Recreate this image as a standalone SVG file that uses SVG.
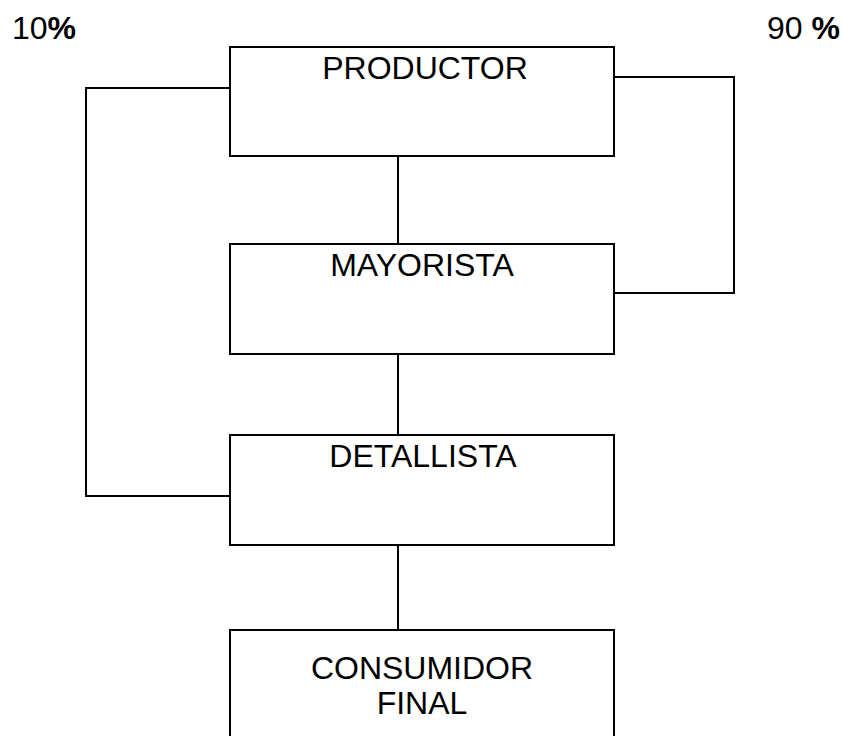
<svg xmlns="http://www.w3.org/2000/svg" width="843" height="736" viewBox="0 0 843 736">
<style>
.box{fill:#fff;stroke:#000;stroke-width:2}
.con{fill:none;stroke:#000;stroke-width:2}
text{font-family:"Liberation Sans",Arial,sans-serif;font-size:32px;fill:#000}
.c{text-anchor:middle}
</style>
<rect width="843" height="736" fill="#fff"/>
<g id="connectors">
<polyline class="con" points="230,88 86,88 86,496 230,496"/>
<polyline class="con" points="614,77 734,77 734,293 614,293"/>
<line class="con" x1="398" y1="156" x2="398" y2="244"/>
<line class="con" x1="398" y1="354" x2="398" y2="435"/>
<line class="con" x1="398" y1="545" x2="398" y2="630"/>
</g>
<g id="productor">
<rect class="box" x="230" y="47" width="384" height="109"/>
<text class="c" x="425" y="79">PRODUCTOR</text>
</g>
<g id="mayorista">
<rect class="box" x="230" y="244" width="384" height="110"/>
<text class="c" x="422" y="276">MAYORISTA</text>
</g>
<g id="detallista">
<rect class="box" x="230" y="435" width="384" height="110"/>
<text class="c" x="423" y="467">DETALLISTA</text>
</g>
<g id="consumidor">
<rect class="box" x="230" y="630" width="384" height="120"/>
<text class="c" x="422" y="679">CONSUMIDOR</text>
<text class="c" x="422" y="714">FINAL</text>
</g>
<g id="labels">
<text x="12" y="39">10<tspan font-weight="bold">%</tspan></text>
<text x="767" y="39">90 <tspan font-weight="bold">%</tspan></text>
</g>
</svg>
